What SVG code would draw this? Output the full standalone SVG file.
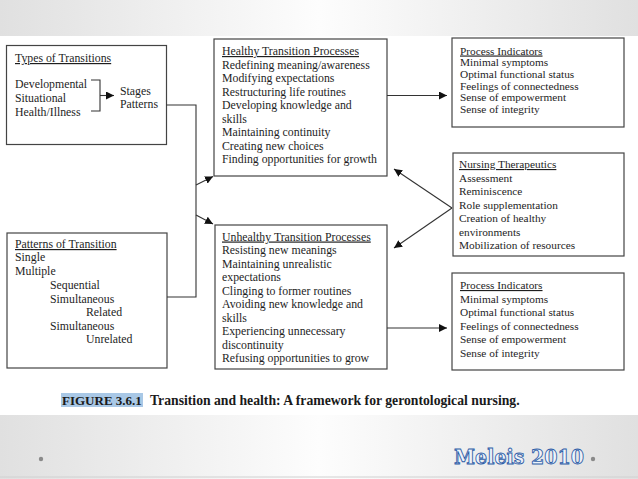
<svg xmlns="http://www.w3.org/2000/svg" width="638" height="479" viewBox="0 0 638 479">
<defs>
<linearGradient id="bg" x1="0" y1="0" x2="1" y2="0">
<stop offset="0" stop-color="#e0e0e0"/>
<stop offset="0.5" stop-color="#fdfdfd"/>
<stop offset="1" stop-color="#e0e0e0"/>
</linearGradient>
<marker id="ah" viewBox="0 0 10 10" refX="10" refY="5" markerWidth="8" markerHeight="8" markerUnits="userSpaceOnUse" orient="auto">
<path d="M0,0 L10,5 L0,10 z" fill="#111"/>
</marker>
<style>
.box{fill:#fff;stroke:#444;stroke-width:1.2}
.t{font-family:"Liberation Serif","Times New Roman",serif;font-size:11.8px;fill:#1e1e1e}
.s{font-size:11.3px}
.h{text-decoration:underline}
.c{fill:none;stroke:#333;stroke-width:1.1}
.cap{font-family:"Liberation Serif","Times New Roman",serif;font-size:13px;font-weight:bold;fill:#1a1a1a}
.capl{font-size:13.7px}
</style>
</defs>
<rect x="0" y="0" width="638" height="479" fill="url(#bg)"/>
<rect x="0" y="36" width="638" height="379" fill="#ffffff"/>
<line x1="0" y1="477" x2="638" y2="477" stroke="#d0d0d0" stroke-width="1"/>

<g id="types">
<rect class="box" x="6.5" y="45.5" width="160" height="99"/>
<text class="t h" x="15" y="62">Types of Transitions</text>
<text class="t" x="15" y="88">Developmental</text>
<text class="t" x="15" y="102">Situational</text>
<text class="t" x="15" y="115.5">Health/Illness</text>
<path class="c" d="M91,80 H100 V111 H91"/>
<line class="c" x1="100" y1="95.5" x2="114" y2="95.5" marker-end="url(#ah)"/>
<text class="t" x="120" y="95">Stages</text>
<text class="t" x="120" y="108">Patterns</text>
</g>

<g id="patterns">
<rect class="box" x="7" y="233" width="160" height="135"/>
<text class="t h" x="15" y="248">Patterns of Transition</text>
<text class="t" x="15" y="261">Single</text>
<text class="t" x="15" y="275">Multiple</text>
<text class="t" x="50" y="288.5">Sequential</text>
<text class="t" x="50" y="302.5">Simultaneous</text>
<text class="t" x="86" y="315.5">Related</text>
<text class="t" x="50" y="329.5">Simultaneous</text>
<text class="t" x="86" y="343">Unrelated</text>
</g>

<g id="healthy">
<rect class="box" x="214" y="39" width="173" height="137"/>
<text class="t h" x="222" y="55">Healthy Transition Processes</text>
<text class="t" x="222" y="68.5">Redefining meaning/awareness</text>
<text class="t" x="222" y="82">Modifying expectations</text>
<text class="t" x="222" y="95.5">Restructuring life routines</text>
<text class="t" x="222" y="109">Developing knowledge and</text>
<text class="t" x="222" y="122.5">skills</text>
<text class="t" x="222" y="136">Maintaining continuity</text>
<text class="t" x="222" y="149.5">Creating new choices</text>
<text class="t" x="222" y="163">Finding opportunities for growth</text>
</g>

<g id="unhealthy">
<rect class="box" x="215" y="225" width="172" height="144"/>
<text class="t h" x="222" y="240.5">Unhealthy Transition Processes</text>
<text class="t" x="222" y="254">Resisting new meanings</text>
<text class="t" x="222" y="267.5">Maintaining unrealistic</text>
<text class="t" x="222" y="281">expectations</text>
<text class="t" x="222" y="294.5">Clinging to former routines</text>
<text class="t" x="222" y="308">Avoiding new knowledge and</text>
<text class="t" x="222" y="321.5">skills</text>
<text class="t" x="222" y="335">Experiencing unnecessary</text>
<text class="t" x="222" y="348.5">discontinuity</text>
<text class="t" x="222" y="362">Refusing opportunities to grow</text>
</g>

<g id="indicators-top">
<rect class="box" x="452" y="38" width="172" height="89"/>
<text class="t s h" x="460" y="54.5">Process Indicators</text>
<text class="t s" x="460" y="66.2">Minimal symptoms</text>
<text class="t s" x="460" y="77.9">Optimal functional status</text>
<text class="t s" x="460" y="89.6">Feelings of connectedness</text>
<text class="t s" x="460" y="101.3">Sense of empowerment</text>
<text class="t s" x="460" y="113">Sense of integrity</text>
</g>

<g id="nursing">
<rect class="box" x="453" y="153" width="171" height="103"/>
<text class="t s h" x="459" y="168">Nursing Therapeutics</text>
<text class="t s" x="459" y="181.5">Assessment</text>
<text class="t s" x="459" y="195">Reminiscence</text>
<text class="t s" x="459" y="208.5">Role supplementation</text>
<text class="t s" x="459" y="222">Creation of healthy</text>
<text class="t s" x="459" y="235.5">environments</text>
<text class="t s" x="459" y="249">Mobilization of resources</text>
</g>

<g id="indicators-bottom">
<rect class="box" x="452" y="273" width="172" height="97"/>
<text class="t s h" x="460" y="289">Process Indicators</text>
<text class="t s" x="460" y="302.5">Minimal symptoms</text>
<text class="t s" x="460" y="316">Optimal functional status</text>
<text class="t s" x="460" y="329.5">Feelings of connectedness</text>
<text class="t s" x="460" y="343">Sense of empowerment</text>
<text class="t s" x="460" y="356.5">Sense of integrity</text>
</g>

<g id="connectors">
<path class="c" d="M166.5,105 H196 V297 H167"/>
<line class="c" x1="196" y1="185" x2="213" y2="176.5" marker-end="url(#ah)"/>
<line class="c" x1="196" y1="215" x2="213" y2="224" marker-end="url(#ah)"/>
<line class="c" x1="387" y1="95.5" x2="447" y2="95.5" marker-end="url(#ah)"/>
<line class="c" x1="387" y1="328" x2="447" y2="328" marker-end="url(#ah)"/>
<line class="c" x1="452" y1="208" x2="394" y2="169" marker-end="url(#ah)"/>
<line class="c" x1="452" y1="208" x2="394" y2="248" marker-end="url(#ah)"/>
</g>

<g id="caption">
<rect x="61" y="393" width="82" height="14" fill="#a9c8e6"/>
<text class="cap" x="62" y="404.5">FIGURE 3.6.1</text>
<text class="cap capl" x="150" y="404.5">Transition and health: A framework for gerontological nursing.</text>
</g>

<g id="footer">
<circle cx="41" cy="459" r="2.2" fill="#8a8a8a"/>
<text x="454" y="464" font-family="'DejaVu Serif',serif" font-weight="bold" font-size="20" textLength="130" lengthAdjust="spacingAndGlyphs" fill="#eef3fb" stroke="#2f5ea8" stroke-width="0.9">Meleis 2010</text>
<circle cx="593" cy="459" r="2.2" fill="#8a8a8a"/>
</g>
</svg>
